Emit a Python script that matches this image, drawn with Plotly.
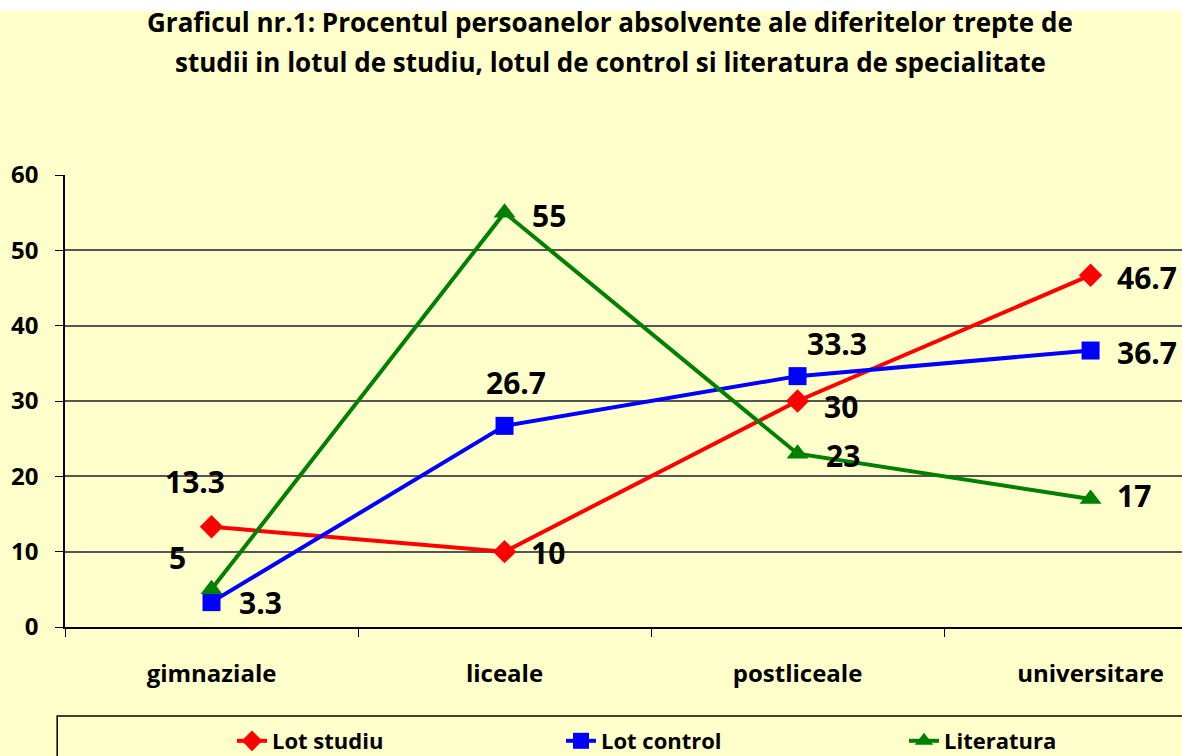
import plotly.graph_objects as go

# ── Data
categories = ["gimnaziale", "liceale", "postliceale", "universitare"]
lot_studiu = [13.3, 10, 30, 46.7]
lot_control = [3.3, 26.7, 33.3, 36.7]
literatura = [5, 55, 23, 17]
title_lines = [
    "Graficul nr.1: Procentul persoanelor absolvente ale diferitelor trepte de",
    "studii in lotul de studiu, lotul de control si literatura de specialitate",
]

FONT = "Open Sans"
BG = "#FFFFCC"
LABEL_FONT = dict(family=FONT, size=30, color="#000000", weight="bold")

# label placement per point: (xanchor, xshift, yshift)
red_pos = [("center", -17, 45), ("left", 24, -1), ("left", 24, -5), ("left", 24, -2)]
blue_pos = [("left", 25, 0), ("center", 11, 43), ("center", 39, 33), ("left", 24, -2)]
green_pos = [("center", -34, 32), ("left", 25, -3), ("left", 26, -2), ("left", 24, 3)]

series = [
    ("Lot studiu", lot_studiu, "#FF0000", "diamond", 18, red_pos, "legend"),
    ("Lot control", lot_control, "#0000FF", "square", 18, blue_pos, "legend"),
    ("Literatura", literatura, "#008000", "triangle-up", 19, green_pos, "legend2"),
]

fig = go.Figure()

for name, values, color, symbol, msize, pos, leg in series:
    fig.add_trace(go.Scatter(
        x=categories, y=values, name=name,
        mode="lines+markers",
        line=dict(color=color, width=4),
        marker=dict(symbol=symbol, size=msize, color=color),
        legend=leg,
    ))
    # data labels
    for cat, val, (anchor, dx, dy) in zip(categories, values, pos):
        fig.add_annotation(
            x=cat, y=val, text=str(val), showarrow=False,
            xanchor=anchor, yanchor="middle", xshift=dx, yshift=dy,
            font=LABEL_FONT,
        )

# legend frame, cropped by the page edge like the original
fig.add_shape(
    type="rect", xref="paper", yref="paper",
    x0=-0.007, y0=-0.197, x1=1.2, y1=-0.5,
    line=dict(color="#000000", width=1.5), fillcolor="rgba(0,0,0,0)",
)
# white strip at the top of the original screenshot
fig.add_shape(
    type="rect", xref="paper", yref="paper",
    x0=-0.1, y0=1.363, x1=1.1, y1=1.5,
    line=dict(width=0), fillcolor="#FFFFFF",
)

for i, line in enumerate(title_lines):
    fig.add_annotation(
        text=line, xref="paper", yref="paper",
        x=(610 - 65) / 1117, y=(627 - 22 - 40 * i) / 452,
        xanchor="center", yanchor="middle", showarrow=False,
        font=dict(family=FONT, size=26, color="#000000", weight="bold"),
    )

legend_font = dict(family=FONT, size=22, color="#000000", weight="bold")

fig.update_layout(
    width=1182, height=756,
    paper_bgcolor=BG, plot_bgcolor=BG,
    margin=dict(l=65, r=0, t=175, b=129, autoexpand=False),
    font=dict(family=FONT, color="#000000"),
    showlegend=True,
    legend=dict(
        orientation="h", x=(232 - 65) / 1117, xanchor="left",
        y=(627 - 720) / 452, yanchor="top",
        bgcolor="rgba(0,0,0,0)", entrywidth=284, font=legend_font,
    ),
    legend2=dict(
        orientation="h", x=(904 - 65) / 1117, xanchor="left",
        y=(627 - 720) / 452, yanchor="top",
        bgcolor="rgba(0,0,0,0)", font=legend_font,
    ),
)

fig.update_xaxes(
    range=[-0.5, 3.312], showgrid=False,
    showline=True, linecolor="#000000", linewidth=1.5,
    ticks="outside", tickson="boundaries", ticklen=8, tickcolor="#000000",
    tickfont=dict(family=FONT, size=24, color="#000000", weight="bold"),
    ticklabelstandoff=24,
)
fig.update_yaxes(
    range=[0, 60], dtick=10,
    showgrid=True, gridcolor="#555555", gridwidth=1.5,
    showline=True, linecolor="#000000", linewidth=1.5,
    ticks="outside", ticklen=8, tickcolor="#000000",
    tickfont=dict(family=FONT, size=24, color="#000000", weight="bold"),
    ticklabelstandoff=12,
    zeroline=False,
)

fig.write_html(
    "out.html",
    config={"displayModeBar": False},
    post_script="document.body.style.margin='0px';",
)
